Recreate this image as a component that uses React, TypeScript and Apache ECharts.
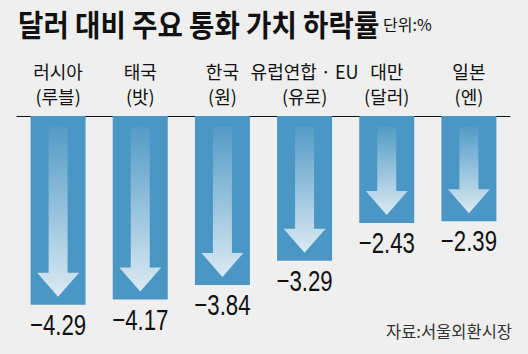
import React, { useEffect, useRef } from "react";
import * as echarts from "echarts";

const countries = ["러시아", "태국", "한국", "유럽연합 · EU", "대만", "일본"];
const currencies = ["(루블)", "(밧)", "(원)", "(유로)", "(달러)", "(엔)"];
const values = [-4.29, -4.17, -3.84, -3.29, -2.43, -2.39];

const titleText = "달러 대비 주요 통화 가치 하락률";
const unitText = "단위:%";
const sourceText = "자료:서울외환시장";

const BAR = "#4a96c4";
const KR = "'Noto Sans CJK KR', 'Noto Sans', sans-serif";

export default function App() {
  const ref = useRef<HTMLDivElement>(null);
  useEffect(() => {
    if (!ref.current) return;
    const chart = echarts.init(ref.current, undefined, { renderer: "svg" });
    const categories = countries.map((c, i) => c + "\n" + currencies[i]);
    chart.setOption({
      animation: false,
      backgroundColor: "#efefef",
      grid: { left: 17, right: 18, top: 116, height: 220 },
      xAxis: {
        type: "category",
        data: categories,
        position: "top",
        axisLine: { onZero: false, lineStyle: { color: "#111", width: 1 } },
        axisTick: { show: false },
        axisLabel: {
          interval: 0,
          fontSize: 18,
          lineHeight: 25,
          margin: 8,
          color: "#111",
          fontFamily: KR,
        },
      },
      yAxis: {
        type: "value",
        min: -5,
        max: 0,
        show: false,
        splitLine: { show: false },
      },
      graphic: [
        {
          type: "text",
          x: 18,
          y: 23,
          scaleX: 0.92,
          style: {
            text: titleText,
            fontSize: 30,
            fontWeight: "bold",
            fontFamily: KR,
            fill: "#111",
            verticalAlign: "middle",
          },
        },
        {
          type: "text",
          x: 383,
          y: 24,
          style: {
            text: unitText,
            fontSize: 16,
            fontFamily: KR,
            fill: "#111",
            verticalAlign: "middle",
          },
        },
        {
          type: "text",
          x: 512,
          y: 331,
          style: {
            text: sourceText,
            fontSize: 16.5,
            fontFamily: KR,
            fill: "#333",
            align: "right",
            verticalAlign: "middle",
          },
        },
      ],
      series: [
        {
          type: "bar",
          data: values,
          barWidth: 55,
          itemStyle: { color: BAR },
        },
        {
          type: "custom",
          z: 5,
          data: values.map((v, i) => [i, v]),
          renderItem: (params: any, api: any) => {
            const i = api.value(0);
            const v = api.value(1);
            const top = api.coord([i, 0]);
            const bot = api.coord([i, v]);
            const cx = top[0];
            const y0 = top[1] + 11;
            const tip = bot[1] - 8;
            const hb = tip - 24;
            const sw = 9.5;
            const hw = 21;
            return {
              type: "group",
              children: [
                {
                  type: "polygon",
                  shape: {
                    points: [
                      [cx - sw, y0],
                      [cx + sw, y0],
                      [cx + sw, hb],
                      [cx + hw, hb],
                      [cx, tip],
                      [cx - hw, hb],
                      [cx - sw, hb],
                    ],
                  },
                  style: {
                    fill: new echarts.graphic.LinearGradient(0, 0, 0, 1, [
                      { offset: 0, color: "rgba(255,255,255,0.05)" },
                      { offset: 1, color: "rgba(255,255,255,0.8)" },
                    ]),
                  },
                },
                {
                  type: "text",
                  x: cx,
                  y: bot[1] + 20,
                  scaleX: 0.74,
                  style: {
                    text: "\u2212" + Math.abs(v).toFixed(2),
                    fontSize: 30,
                    fontFamily: "'Liberation Sans', Arial, sans-serif",
                    fill: "#111",
                    align: "center",
                    verticalAlign: "middle",
                  },
                },
              ],
            };
          },
        },
      ],
    });
    return () => chart.dispose();
  }, []);
  return (
    <div
      ref={ref}
      style={{ position: "fixed", left: 0, top: 0, width: 528, height: 354, background: "#efefef" }}
    />
  );
}
